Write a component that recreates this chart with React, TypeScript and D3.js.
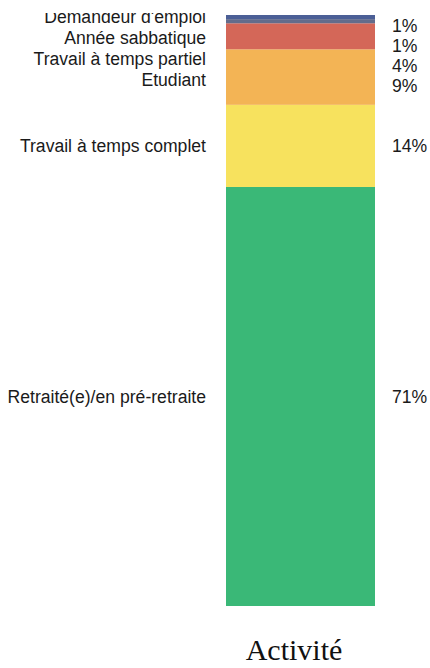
import { useEffect, useRef } from 'react';
import * as d3 from 'd3';

// stacked from the bottom up
const categories = [
  'Retraité(e)/en pré-retraite',
  'Travail à temps complet',
  'Etudiant',
  'Travail à temps partiel',
  'Année sabbatique',
  "Demandeur d'emploi",
];
const values = [70.9, 13.9, 9.4, 4.4, 0.7, 0.7];
const colors = ['#3ab877', '#f7e25e', '#f3b455', '#d46758', '#636c8b', '#4b5f96'];
const axisTitle = 'Activité';

export default function App() {
  const svgRef = useRef<SVGSVGElement | null>(null);

  useEffect(() => {
    if (!svgRef.current) return;
    const width = 430;
    const height = 668;
    const svg = d3.select(svgRef.current);
    svg.selectAll('*').remove();
    svg.attr('width', width).attr('height', height);

    const y = d3.scaleLinear().domain([0, 100]).range([606, 15]);
    const x = d3.scaleBand().domain([axisTitle]).range([226, 375]).padding(0);

    let acc = 0;
    const segs = values.map((v, i) => {
      const s = { name: categories[i], value: v, color: colors[i], y0: acc, y1: acc + v };
      acc += v;
      return s;
    });

    svg
      .append('defs')
      .append('clipPath')
      .attr('id', 'plot-clip')
      .append('rect')
      .attr('x', 0)
      .attr('y', 13)
      .attr('width', width)
      .attr('height', height - 13);

    const g = svg.append('g').attr('clip-path', 'url(#plot-clip)');

    g.selectAll('rect.seg')
      .data(segs)
      .enter()
      .append('rect')
      .attr('class', 'seg')
      .attr('x', x(axisTitle)!)
      .attr('width', x.bandwidth())
      .attr('y', (d) => y(d.y1))
      .attr('height', (d) => y(d.y0) - y(d.y1))
      .attr('fill', (d) => d.color);

    // label placement: walk from top down, keep a minimum gap
    const topDown = segs.slice().reverse();
    const place = (minTop: number, gap: number) => {
      let prev = -Infinity;
      return topDown.map((d) => {
        const c = (y(d.y0) + y(d.y1)) / 2;
        const p = Math.max(c, minTop, prev + gap);
        prev = p;
        return p;
      });
    };
    const leftY = place(0, 21);
    const rightY = place(26, 20);

    const font = "'Liberation Sans', Arial, sans-serif";

    g.selectAll('text.cat')
      .data(topDown)
      .enter()
      .append('text')
      .attr('class', 'cat')
      .attr('x', 206)
      .attr('y', (_, i) => leftY[i])
      .attr('dy', '0.36em')
      .attr('text-anchor', 'end')
      .style('font-family', font)
      .style('font-size', '17.6px')
      .attr('fill', '#1a1a1a')
      .text((d) => d.name);

    g.selectAll('text.val')
      .data(topDown)
      .enter()
      .append('text')
      .attr('class', 'val')
      .attr('x', 392)
      .attr('y', (_, i) => rightY[i])
      .attr('dy', '0.36em')
      .attr('text-anchor', 'start')
      .style('font-family', font)
      .style('font-size', '17.6px')
      .attr('fill', '#1a1a1a')
      .text((d) => `${Math.round(d.value)}%`);

    svg
      .append('text')
      .attr('x', 294)
      .attr('y', 660)
      .attr('text-anchor', 'middle')
      .style('font-family', "'Liberation Serif', 'Times New Roman', serif")
      .style('font-size', '30px')
      .attr('fill', '#111')
      .text(axisTitle);
  }, []);

  return (
    <svg
      ref={svgRef}
      style={{ position: 'absolute', left: 0, top: 0, display: 'block', background: '#fff' }}
    />
  );
}
